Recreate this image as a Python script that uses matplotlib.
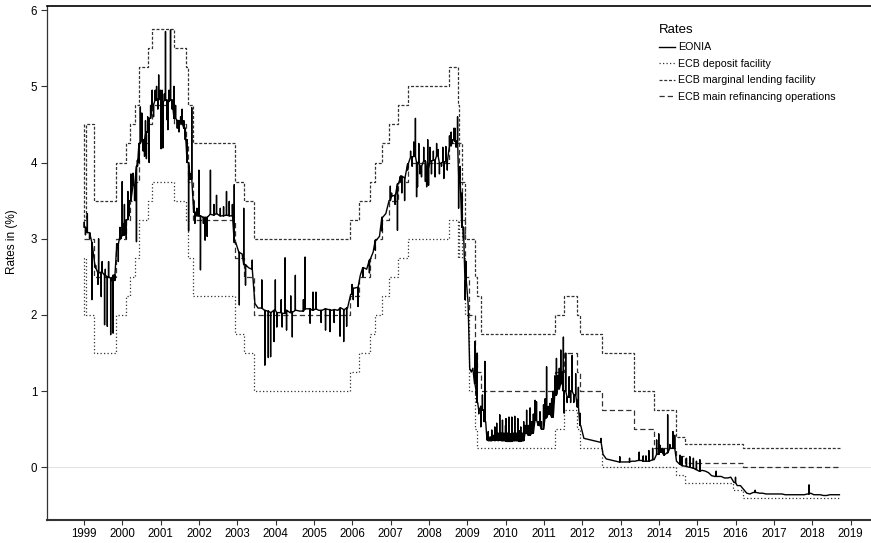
import matplotlib
matplotlib.use("Agg")
import matplotlib.pyplot as plt
from matplotlib.lines import Line2D
from datetime import date

plt.rcParams['font.family'] = ['Liberation Sans', 'DejaVu Sans']

# ---------------- ECB policy rates (change dates and new values) ----------------
mro_dates = ['1999-01-01', '1999-04-09', '1999-11-05', '2000-02-04', '2000-03-17', '2000-04-28',
             '2000-06-09', '2000-09-01', '2000-10-06', '2001-05-11', '2001-08-31', '2001-09-18',
             '2001-11-09', '2002-12-06', '2003-03-07', '2003-06-06', '2005-12-06', '2006-03-08',
             '2006-06-15', '2006-08-09', '2006-10-11', '2006-12-13', '2007-03-14', '2007-06-13',
             '2008-07-09', '2008-10-15', '2008-11-12', '2008-12-10', '2009-01-21', '2009-03-11',
             '2009-04-08', '2009-05-13', '2011-04-13', '2011-07-13', '2011-11-09', '2011-12-14',
             '2012-07-11', '2013-05-08', '2013-11-13', '2014-06-11', '2014-09-10', '2016-03-16']
mro_vals = [3.00, 2.50, 3.00, 3.25, 3.50, 3.75, 4.25, 4.50, 4.75, 4.50, 4.25, 3.75, 3.25, 2.75,
            2.50, 2.00, 2.25, 2.50, 2.75, 3.00, 3.25, 3.50, 3.75, 4.00, 4.25, 3.75, 3.25, 2.50,
            2.00, 1.50, 1.25, 1.00, 1.25, 1.50, 1.25, 1.00, 0.75, 0.50, 0.25, 0.15, 0.05, 0.00]

dep_dates = ['1999-01-01', '1999-01-04', '1999-01-22', '1999-04-09', '1999-11-05', '2000-02-04',
             '2000-03-17', '2000-04-28', '2000-06-09', '2000-09-01', '2000-10-06', '2001-05-11',
             '2001-08-31', '2001-09-18', '2001-11-09', '2002-12-06', '2003-03-07', '2003-06-06',
             '2005-12-06', '2006-03-08', '2006-06-15', '2006-08-09', '2006-10-11', '2006-12-13',
             '2007-03-14', '2007-06-13', '2008-07-09', '2008-10-08', '2008-10-09', '2008-11-12',
             '2008-12-10', '2009-01-21', '2009-03-11', '2009-04-08', '2011-04-13', '2011-07-13',
             '2011-11-09', '2011-12-14', '2012-07-11', '2014-06-11', '2014-09-10', '2015-12-09',
             '2016-03-16']
dep_vals = [2.00, 2.75, 2.00, 1.50, 2.00, 2.25, 2.50, 2.75, 3.25, 3.50, 3.75, 3.50, 3.25, 2.75,
            2.25, 1.75, 1.50, 1.00, 1.25, 1.50, 1.75, 2.00, 2.25, 2.50, 2.75, 3.00, 3.25, 2.75,
            3.25, 2.75, 2.00, 1.00, 0.50, 0.25, 0.50, 0.75, 0.50, 0.25, 0.00, -0.10, -0.20,
            -0.30, -0.40]

mlf_dates = ['1999-01-01', '1999-01-04', '1999-01-22', '1999-04-09', '1999-11-05', '2000-02-04',
             '2000-03-17', '2000-04-28', '2000-06-09', '2000-09-01', '2000-10-06', '2001-05-11',
             '2001-08-31', '2001-09-18', '2001-11-09', '2002-12-06', '2003-03-07', '2003-06-06',
             '2005-12-06', '2006-03-08', '2006-06-15', '2006-08-09', '2006-10-11', '2006-12-13',
             '2007-03-14', '2007-06-13', '2008-07-09', '2008-10-08', '2008-10-09', '2008-11-12',
             '2008-12-10', '2009-03-11', '2009-04-08', '2009-05-13', '2011-04-13', '2011-07-13',
             '2011-11-09', '2011-12-14', '2012-07-11', '2013-05-08', '2013-11-13', '2014-06-11',
             '2014-09-10', '2016-03-16']
mlf_vals = [4.50, 3.25, 4.50, 3.50, 4.00, 4.25, 4.50, 4.75, 5.25, 5.50, 5.75, 5.50, 5.25, 4.75,
            4.25, 3.75, 3.50, 3.00, 3.25, 3.50, 3.75, 4.00, 4.25, 4.50, 4.75, 5.00, 5.25, 4.75,
            4.25, 3.75, 3.00, 2.50, 2.25, 1.75, 2.00, 2.25, 2.00, 1.75, 1.50, 1.00, 0.75, 0.40,
            0.30, 0.25]

series_end = '2018-09-25'

# ---------------- EONIA: monthly (or half-monthly) levels + spike days (month, day, value) ----------------
lvl_1999 = [3.15, 3.08, 2.95, 2.62, 2.55, 2.56, 2.52, 2.50, 2.48, 2.52, 2.93, 3.04]
spk_1999 = [(1, 4, 3.22), (1, 15, 3.05), (2, 2, 3.33), (2, 23, 3.00), (3, 17, 2.20), (4, 22, 2.65),
            (5, 14, 2.40), (5, 20, 3.00), (6, 14, 2.24), (6, 23, 2.70), (7, 16, 1.87), (7, 23, 2.60),
            (8, 11, 1.85), (8, 23, 2.70), (9, 12, 1.74), (9, 23, 2.45), (10, 5, 1.76), (10, 22, 2.45),
            (11, 10, 2.90), (11, 24, 2.70), (12, 10, 3.15), (12, 20, 3.00), (12, 31, 3.75)]
lvl_2000 = [3.05, 3.25, 3.50, 3.70, 3.95, 4.25, 4.30, 4.40, 4.58, 4.76, 4.82, 4.83]
spk_2000 = [(1, 10, 3.20), (1, 21, 3.45), (2, 8, 3.00), (2, 23, 3.62), (3, 8, 3.30), (3, 23, 3.85),
            (4, 12, 3.86), (4, 27, 3.50), (5, 15, 2.96), (5, 24, 4.03), (6, 8, 4.00), (6, 21, 4.73),
            (7, 5, 4.65), (7, 18, 4.15), (7, 31, 4.08), (8, 9, 4.55), (8, 18, 4.05), (8, 30, 4.60),
            (9, 13, 4.00), (9, 27, 4.75), (10, 12, 4.95), (10, 25, 4.60), (11, 10, 4.95),
            (11, 23, 5.00), (12, 5, 4.70), (12, 13, 5.15), (12, 28, 4.95)]
lvl_2001 = [4.78, 4.82, 4.80, 4.82, 4.58, 4.55, 4.52, 4.45, 4.00, 3.78, 3.35, 3.30]
spk_2001 = [(1, 5, 4.18), (1, 15, 4.95), (1, 22, 4.19), (2, 5, 4.90), (2, 16, 5.72), (3, 2, 4.56),
            (3, 11, 4.43), (3, 22, 4.95), (4, 5, 5.74), (4, 20, 4.70), (5, 8, 5.00), (5, 23, 4.75),
            (6, 8, 4.45), (6, 25, 4.40), (7, 10, 4.60), (7, 24, 4.70), (8, 10, 4.55), (8, 23, 4.30),
            (9, 10, 4.30), (9, 24, 3.10), (10, 10, 3.85), (10, 24, 4.72), (11, 12, 3.50),
            (11, 23, 3.20), (12, 12, 3.40), (12, 31, 3.90)]
lvl_2002 = [3.30, 3.28, 3.28, 3.32, 3.31, 3.33, 3.30, 3.30, 3.31, 3.30, 3.30, 2.95]
spk_2002 = [(1, 15, 2.59), (2, 12, 3.20), (2, 28, 2.98), (3, 20, 3.03), (4, 20, 3.90), (5, 23, 3.45),
            (6, 17, 3.57), (7, 23, 3.40), (8, 23, 3.42), (9, 20, 3.62), (10, 16, 3.49), (11, 15, 3.45),
            (12, 3, 3.71)]
lvl_2003 = [2.82, 2.80, 2.66, 2.62, 2.60, 2.15, 2.09, 2.09, 2.06, 2.05, 2.03, 2.06]
spk_2003 = [(1, 20, 2.13), (3, 3, 3.40), (3, 20, 2.39), (5, 23, 2.72), (8, 22, 2.46), (9, 20, 1.34),
            (10, 23, 1.44), (11, 14, 1.45), (12, 16, 1.65), (12, 29, 2.46)]
lvl_2004 = [2.03, 2.03, 2.02, 2.06, 2.03, 2.04, 2.06, 2.05, 2.05, 2.08, 2.08, 2.06]
spk_2004 = [(1, 12, 1.84), (2, 23, 2.20), (3, 3, 1.84), (3, 31, 2.75), (4, 14, 1.80), (5, 24, 2.25),
            (6, 8, 1.71), (7, 7, 2.52), (9, 22, 2.20), (10, 8, 2.76), (11, 25, 1.89), (12, 23, 2.30)]
lvl_2005 = [2.08, 2.06, 2.06, 2.08, 2.07, 2.06, 2.07, 2.06, 2.09, 2.07, 2.09, 2.27]
spk_2005 = [(1, 20, 2.30), (3, 10, 1.90), (4, 21, 1.80), (6, 2, 1.78), (7, 12, 1.90), (9, 6, 1.72),
            (10, 11, 1.65), (11, 8, 1.85), (12, 30, 2.40)]
lvl_2006 = [2.35, 2.36, 2.52, 2.62, 2.60, 2.72, 2.82, 2.98, 3.03, 3.28, 3.33, 3.50]
spk_2006 = [(1, 10, 2.20), (2, 24, 2.11), (4, 11, 2.50), (6, 13, 2.55), (8, 8, 2.85), (10, 10, 3.10),
            (12, 29, 3.69)]
lvl_2007 = [3.56, 3.57, 3.72, 3.82, 3.80, 3.98, 4.07, 4.08, 4.00, 3.95, 4.02, 3.90]
spk_2007 = [(1, 10, 3.60), (2, 12, 3.45), (3, 7, 3.11), (4, 5, 3.75), (4, 17, 3.60), (5, 14, 3.50),
            (6, 12, 3.90), (7, 10, 4.15), (7, 25, 3.95), (8, 9, 4.27), (8, 25, 4.58), (9, 5, 3.55),
            (9, 14, 3.68), (9, 26, 4.25), (10, 8, 3.85), (10, 22, 3.81), (11, 12, 4.20),
            (11, 28, 3.75), (12, 10, 3.68), (12, 20, 4.30), (12, 28, 3.70)]
lvl_2008 = [4.02, 4.03, 4.09, 3.99, 4.01, 4.01, 4.22, 4.30, 4.28, 3.80, 3.15, 2.45]
spk_2008 = [(1, 10, 4.20), (1, 25, 3.85), (2, 12, 4.15), (2, 29, 3.81), (3, 14, 4.25), (3, 28, 4.17),
            (4, 10, 3.85), (4, 30, 3.95), (5, 12, 4.20), (5, 22, 3.79), (6, 10, 4.21), (6, 24, 3.90),
            (7, 15, 4.35), (7, 31, 4.40), (8, 12, 4.25), (8, 26, 4.45), (9, 5, 4.45), (9, 16, 4.20),
            (9, 30, 4.60), (10, 10, 3.40), (10, 24, 3.95), (11, 10, 3.60), (11, 25, 3.00),
            (12, 10, 2.20), (12, 22, 2.70)]
lvl_2009 = [2.15, 1.30, 1.25, 1.30, 1.10, 1.00, 0.85, 0.75, 0.80, 0.75, 0.75, 0.60,
            0.36, 0.35, 0.35, 0.35, 0.36, 0.35, 0.36, 0.35, 0.36, 0.35, 0.35, 0.35]
spk_2009 = [(3, 14, 1.65), (3, 28, 0.95), (4, 5, 1.50), (4, 20, 0.70), (5, 10, 0.53), (5, 25, 0.95),
            (6, 8, 0.60), (6, 18, 1.39), (7, 8, 0.43), (7, 20, 0.47), (8, 7, 0.40), (8, 22, 0.49),
            (9, 8, 0.42), (9, 20, 0.53), (10, 8, 0.58), (10, 22, 0.45), (11, 6, 0.69), (11, 20, 0.45),
            (12, 2, 0.62), (12, 16, 0.45), (12, 31, 0.55)]
lvl_2010 = [0.34, 0.34, 0.35, 0.35, 0.34, 0.35, 0.45, 0.42, 0.45, 0.62, 0.55, 0.50]
spk_2010 = [(1, 4, 0.64), (1, 18, 0.45), (2, 2, 0.66), (2, 16, 0.44), (3, 1, 0.66), (3, 15, 0.45),
            (3, 29, 0.67), (4, 12, 0.45), (4, 27, 0.64), (5, 11, 0.48), (5, 25, 0.53), (6, 8, 0.45),
            (6, 22, 0.60), (7, 6, 0.55), (7, 20, 0.75), (8, 5, 0.55), (8, 22, 0.78), (9, 8, 0.60),
            (9, 22, 0.70), (10, 8, 0.88), (10, 22, 0.86), (11, 8, 0.60), (11, 24, 0.73), (12, 8, 0.60),
            (12, 28, 0.82)]
lvl_2011 = [0.65, 0.70, 0.66, 0.95, 1.03, 1.10, 1.00, 0.92, 1.00, 0.95, 0.79, 0.55]
spk_2011 = [(1, 12, 0.90), (1, 26, 1.32), (2, 10, 0.80), (2, 28, 0.84), (3, 15, 0.90), (3, 30, 1.00),
            (4, 14, 1.20), (4, 30, 1.43), (5, 12, 1.20), (5, 27, 1.30), (6, 10, 1.54), (6, 24, 1.25),
            (7, 5, 1.71), (7, 12, 0.71), (7, 27, 1.50), (8, 10, 0.85), (8, 29, 1.19), (9, 12, 0.85),
            (9, 27, 1.47), (10, 12, 0.85), (10, 30, 1.23), (11, 15, 0.88), (11, 25, 1.05),
            (12, 10, 0.71)]
lvl_2012 = [0.38, 0.37, 0.36, 0.35, 0.34, 0.33, 0.17, 0.11, 0.10, 0.09, 0.08, 0.07]
spk_2012 = [(6, 28, 0.38), (12, 24, 0.14)]
lvl_2013 = [0.07, 0.07, 0.07, 0.08, 0.08, 0.09, 0.09, 0.08, 0.08, 0.09, 0.10, 0.17]
spk_2013 = [(3, 27, 0.12), (6, 27, 0.20), (8, 4, 0.15), (8, 30, 0.15), (9, 27, 0.22), (11, 2, 0.25),
            (12, 10, 0.36), (12, 30, 0.44)]
lvl_2014 = [0.20, 0.16, 0.19, 0.25, 0.25, 0.08, 0.04, 0.02, 0.01, 0.00, -0.01, -0.03]
spk_2014 = [(1, 10, 0.29), (1, 31, 0.25), (2, 20, 0.24), (3, 25, 0.69), (4, 15, 0.30), (5, 14, 0.47),
            (5, 31, 0.42), (7, 20, 0.16), (8, 10, 0.14), (9, 20, 0.12), (10, 22, 0.14), (11, 25, 0.12),
            (12, 24, 0.08)]
lvl_2015 = [-0.05, -0.04, -0.05, -0.07, -0.11, -0.12, -0.12, -0.12, -0.14, -0.14, -0.13, -0.20]
spk_2015 = [(1, 26, 0.10), (6, 30, -0.05), (12, 31, -0.13)]
lvl_2016 = [-0.24, -0.24, -0.29, -0.34, -0.35, -0.33, -0.33, -0.34, -0.34, -0.35, -0.35, -0.35]
spk_2016 = [(7, 6, -0.30)]
lvl_2017 = [-0.35, -0.35, -0.35, -0.36, -0.36, -0.36, -0.36, -0.36, -0.36, -0.36, -0.35, -0.34]
spk_2017 = [(12, 1, -0.23)]
lvl_2018 = [-0.36, -0.36, -0.36, -0.37, -0.37, -0.36, -0.36, -0.36, -0.36]
spk_2018 = []

year_ticks = list(range(1999, 2020))
tick_labels = [str(y) for y in year_ticks]
y_ticks = [0, 1, 2, 3, 4, 5, 6]

legend_labels = ['EONIA', 'ECB deposit facility', 'ECB marginal lending facility',
                 'ECB main refinancing operations']


def decyear(y, m, d):
    start = date(y, 1, 1).toordinal()
    n = date(y + 1, 1, 1).toordinal() - start
    return y + (date(y, m, d).toordinal() - start) / n


def dec(s):
    y, m, d = (int(p) for p in s.split('-'))
    return decyear(y, m, d)


eonia_years = [
    (1999, lvl_1999, spk_1999), (2000, lvl_2000, spk_2000), (2001, lvl_2001, spk_2001),
    (2002, lvl_2002, spk_2002), (2003, lvl_2003, spk_2003), (2004, lvl_2004, spk_2004),
    (2005, lvl_2005, spk_2005), (2006, lvl_2006, spk_2006), (2007, lvl_2007, spk_2007),
    (2008, lvl_2008, spk_2008), (2009, lvl_2009, spk_2009), (2010, lvl_2010, spk_2010),
    (2011, lvl_2011, spk_2011), (2012, lvl_2012, spk_2012), (2013, lvl_2013, spk_2013),
    (2014, lvl_2014, spk_2014), (2015, lvl_2015, spk_2015), (2016, lvl_2016, spk_2016),
    (2017, lvl_2017, spk_2017), (2018, lvl_2018, spk_2018),
]

pts = []
for yr, lvl, spk in eonia_years:
    step = 1 / 12 if len(lvl) <= 12 else 1 / 24
    lpts = [(yr + (i + 0.5) * step, v) for i, v in enumerate(lvl)]
    pts.extend(lpts)
    for (m, d, v) in spk:
        t = decyear(yr, m, d)
        base = min(lpts, key=lambda p: abs(p[0] - t))[1]
        pts.extend([(t - 0.0016, base), (t, v), (t + 0.0016, base)])
pts.sort()
eonia_x = [p[0] for p in pts]
eonia_y = [p[1] for p in pts]

# ---------------- figure ----------------
W, H = 871, 543
fig = plt.figure(figsize=(W / 100, H / 100), dpi=100)
ax = fig.add_axes([46.7 / W, 1 - 520 / H, 1 - 46.7 / W, (520 - 6) / H])

ax.axhline(0, color='#e3e3e3', lw=0.8, zorder=0)

end = dec(series_end)
gray = '#333333'
rate_lw = 0.9
styles = [(0, (1.0, 1.8)), (0, (2.4, 1.4)), (0, (4.2, 2.4))]
for (dates, vals), ls in zip([(dep_dates, dep_vals), (mlf_dates, mlf_vals), (mro_dates, mro_vals)], styles):
    xs = [dec(s) for s in dates] + [end]
    ys = list(vals) + [vals[-1]]
    ax.step(xs, ys, where='post', color=gray, lw=rate_lw, linestyle=ls, zorder=2)

ax.plot(eonia_x, eonia_y, color='black', lw=1.0, zorder=3)

ax.set_xlim(1999 + (46.7 - 84) / 38.33, 1999 + (W - 84) / 38.33)
ax.set_ylim((467.3 - 520) / 76.2, (467.3 - 6) / 76.2)

ax.set_xticks(year_ticks)
ax.set_xticklabels(tick_labels)
ax.set_yticks(y_ticks)
ax.set_yticklabels([str(v) for v in y_ticks])

ax.tick_params(axis='y', length=4.3, width=0.8, color='#333333', labelsize=8.3, pad=2.5)
ax.tick_params(axis='x', length=3.6, width=0.8, color='#333333', labelsize=8.3, pad=2)

ax.spines['right'].set_visible(False)
ax.spines['top'].set_linewidth(1.2)
ax.spines['top'].set_color('black')
ax.spines['left'].set_linewidth(0.9)
ax.spines['left'].set_color('#333333')
ax.spines['bottom'].set_linewidth(1.5)
ax.spines['bottom'].set_color('#333333')

fig.text(12 / W, 1 - 242 / H, 'Rates in (%)', rotation=90, ha='center', va='center', fontsize=8.5)

handles = [Line2D([], [], color='black', lw=1.0)] + \
          [Line2D([], [], color=gray, lw=rate_lw, linestyle=ls) for ls in styles]
leg = ax.legend(handles, legend_labels, title='Rates', loc='upper left',
                bbox_to_anchor=(659 / W, 1 - 24 / H), bbox_transform=fig.transFigure,
                frameon=False, fontsize=7.7, title_fontsize=9.5, handlelength=1.5,
                handletextpad=0.25, labelspacing=0.6, borderpad=0, borderaxespad=0,
                alignment='left')

fig.savefig('out.png', dpi=100)
